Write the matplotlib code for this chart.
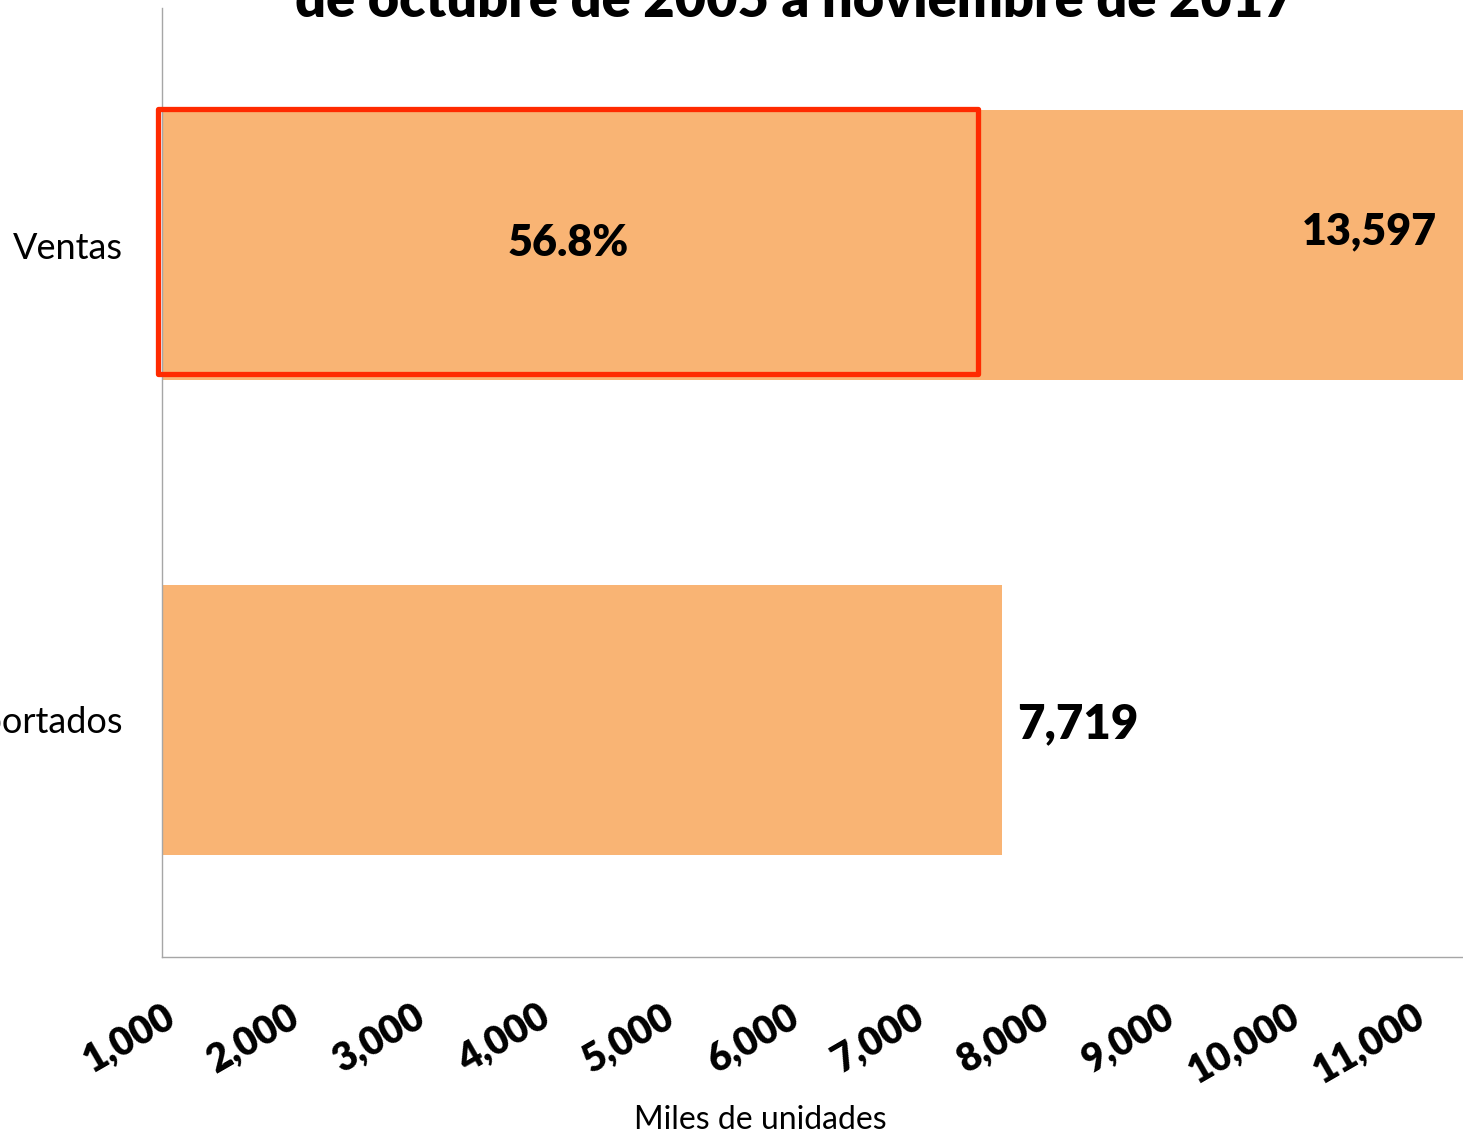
"""Barras horizontales: ventas vs. importados (miles de unidades)."""

import matplotlib

matplotlib.use("Agg")
import matplotlib.pyplot as plt
from matplotlib.patches import Rectangle
from matplotlib.ticker import FuncFormatter

# Datos
categorias = ["Importados", "Ventas"]
valores = [7719, 13597]
etiquetas_valor = ["7,719", "13,597"]
participacion = "56.8%"
ticks_x = [1000, 2000, 3000, 4000, 5000, 6000, 7000, 8000, 9000, 10000, 11000]
recuadro_x = (970, 7530)  # tramo de ventas que corresponde a importados

titulo = "de octubre de 2005 a noviembre de 2017"
etiqueta_x = "Miles de unidades"

COLOR_BARRA = "#F9B474"
COLOR_RECUADRO = "#FF2A00"
FUENTE = "Lato"

plt.rcParams["font.family"] = [FUENTE, "DejaVu Sans"]

fig = plt.figure(figsize=(14.63, 11.34), dpi=100)
ax = fig.add_axes([162 / 1463, 1 - 957 / 1134, 1 - 162 / 1463, (957 - 8) / 1134])

posiciones = list(range(len(categorias)))
ax.barh(posiciones, valores, height=0.57, color=COLOR_BARRA, zorder=2)

ax.set_xlim(1000, 11408)
ax.set_ylim(-0.5, 1.5)

ax.set_xticks(ticks_x)
ax.xaxis.set_major_formatter(FuncFormatter(lambda v, _: f"{v:,.0f}"))
ax.tick_params(axis="x", length=0, pad=29, labelsize=28)
for lbl in ax.get_xticklabels():
    lbl.set_rotation(30)
    lbl.set_ha("right")
    lbl.set_rotation_mode("anchor")
    lbl.set_fontweight("heavy")

ax.set_yticks(posiciones)
ax.set_yticklabels(categorias)
ax.tick_params(axis="y", length=0, pad=28, labelsize=26)

for lado in ("top", "right"):
    ax.spines[lado].set_visible(False)
for lado in ("left", "bottom"):
    ax.spines[lado].set_color("#A6A6A6")
    ax.spines[lado].set_linewidth(1)

# Etiquetas de valor
idx_ventas = categorias.index("Ventas")
idx_imp = categorias.index("Importados")
ax.text(11200, posiciones[idx_ventas] + 0.03, etiquetas_valor[idx_ventas],
        ha="right", va="center", fontsize=31, fontweight="heavy", zorder=4)
ax.text(valores[idx_imp] + 120, posiciones[idx_imp] - 0.01, etiquetas_valor[idx_imp],
        ha="left", va="center", fontsize=34, fontweight="heavy", zorder=4)

# Recuadro rojo sobre la barra de ventas
ax.add_patch(Rectangle((recuadro_x[0], 0.728), recuadro_x[1] - recuadro_x[0], 0.56,
                       fill=False, edgecolor=COLOR_RECUADRO, linewidth=3.8,
                       joinstyle="round", clip_on=False, zorder=3))
ax.text(sum(recuadro_x) / 2, posiciones[idx_ventas] + 0.005, participacion,
        ha="center", va="center", fontsize=31, fontweight="heavy", zorder=4)

ax.set_xlabel(etiqueta_x, fontsize=23)
ax.xaxis.set_label_coords(0.46, -0.156)

fig.text(0.543, 1 - 17 / 1134, titulo, ha="center", va="baseline",
         fontsize=39, fontweight="heavy")

fig.savefig("out.png", dpi=100)
plt.close(fig)
